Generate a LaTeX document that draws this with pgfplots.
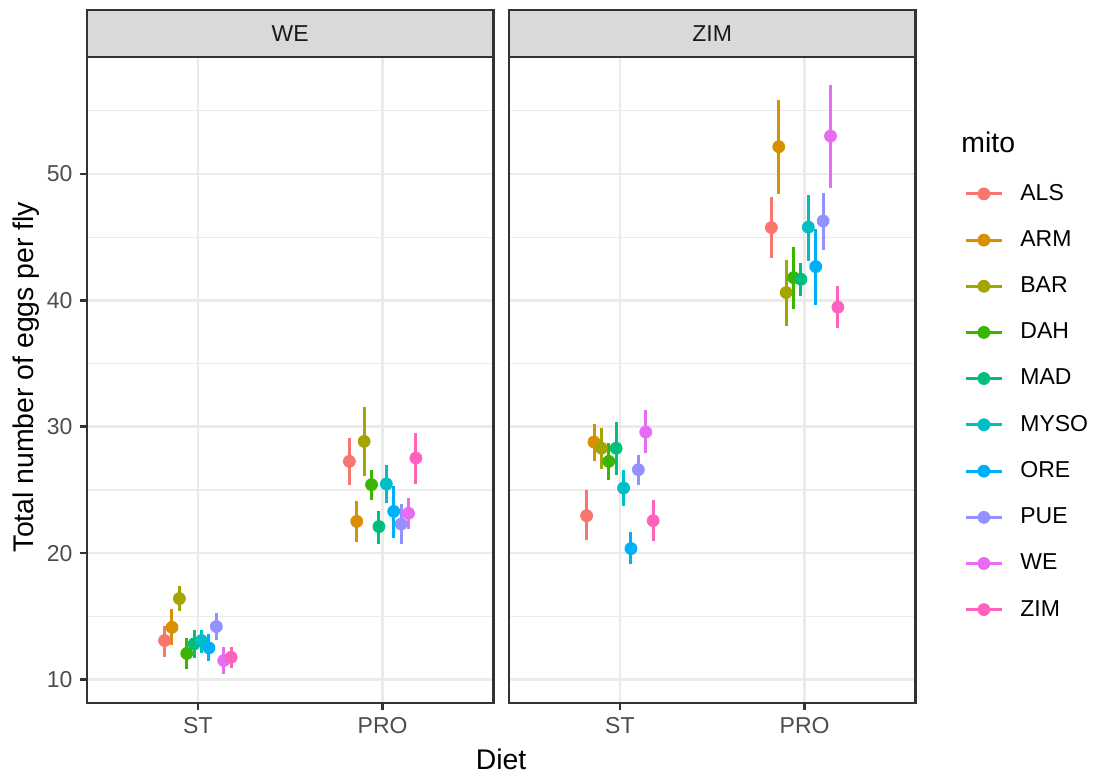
\documentclass[border=0pt]{standalone}
\usepackage{fontspec}
\setmainfont{Liberation Sans}
\usepackage{pgfplots}
\pgfplotsset{compat=1.18}
\usepackage{pgfplotstable}

\definecolor{cALS}{HTML}{F8766D}
\definecolor{cARM}{HTML}{D89000}
\definecolor{cBAR}{HTML}{A3A500}
\definecolor{cDAH}{HTML}{39B600}
\definecolor{cMAD}{HTML}{00BF7D}
\definecolor{cMYSO}{HTML}{00BFC4}
\definecolor{cORE}{HTML}{00B0F6}
\definecolor{cPUE}{HTML}{9590FF}
\definecolor{cWE}{HTML}{E76BF3}
\definecolor{cZIM}{HTML}{FF62BC}
\definecolor{grey92}{HTML}{EBEBEB}
\definecolor{grey85}{HTML}{D9D9D9}
\definecolor{grey30}{HTML}{4D4D4D}
\definecolor{grey20}{HTML}{333333}
\definecolor{grey10}{HTML}{1A1A1A}

% mean and interval per mito, two rows each (ST, PRO), x already dodged
% order: ALS ARM BAR DAH MAD MYSO ORE PUE WE ZIM
\pgfplotstableread{
x    y     lo    hi
0.82 13.08 11.80 14.27
1.82 27.26 25.40 29.10
0.86 14.13 12.69 15.59
1.86 22.51 20.85 24.10
0.90 16.40 15.40 17.43
1.90 28.84 26.13 31.56
0.94 12.06 10.85 13.30
1.94 25.42 24.17 26.60
0.98 12.82 11.70 13.95
1.98 22.10 20.75 23.30
1.02 13.08 12.10 13.90
2.02 25.47 24.00 26.94
1.06 12.50 11.45 13.56
2.06 23.30 21.20 25.34
1.10 14.19 13.10 15.27
2.10 22.30 20.70 23.90
1.14 11.50 10.40 12.58
2.14 23.15 21.90 24.33
1.18 11.76 10.90 12.58
2.18 27.52 25.50 29.50
}\dataWE

\pgfplotstableread{
x    y     lo    hi
0.82 22.96 21.00 24.96
1.82 45.76 43.34 48.16
0.86 28.79 27.26 30.24
1.86 52.16 48.40 55.85
0.90 28.30 26.68 29.90
1.90 40.62 37.98 43.20
0.94 27.26 25.80 28.70
1.94 41.80 39.30 44.25
0.98 28.30 26.20 30.40
1.98 41.67 40.36 42.99
1.02 25.15 23.75 26.55
2.02 45.79 43.15 48.34
1.06 20.36 19.10 21.64
2.06 42.67 39.64 45.63
1.10 26.60 25.40 27.80
2.10 46.28 44.00 48.47
1.14 29.58 27.90 31.30
2.14 53.00 48.87 57.04
1.18 22.57 20.93 24.17
2.18 39.46 37.80 41.17
}\dataZIM

\newcommand{\fsmall}{\fontsize{11.5}{13}\selectfont}
\newcommand{\fbig}{\fontsize{14.2}{16}\selectfont}

\pgfplotsset{
  panel/.style={
    scale only axis, width=203.25pt, height=323pt,
    xmin=0.4, xmax=2.6, ymin=8.14, ymax=59.26,
    xtick={1,2}, xticklabels={ST,PRO},
    ytick={10,20,30,40,50}, minor ytick={15,25,35,45,55},
    grid=both,
    major grid style={grey92, line width=1.36pt},
    minor grid style={grey92, line width=0.68pt},
    axis line style={grey20, line width=1.36pt},
    tick align=outside, tick pos=left,
    major tick length=3.7pt, minor tick length=0pt,
    every tick/.append style={grey20, line width=1.36pt},
    ticklabel style={font=\fsmall, text=grey30},
    /pgf/number format/assume math mode=true,
    clip=false,
  },
  m/.style n args={3}{
    only marks, mark=*, mark size=3pt, color=#1,
    mark options={draw=none, fill=#1},
    skip coords between index={0}{#2},
    skip coords between index={#3}{20},
    error bars/y dir=both, error bars/y explicit,
    error bars/error mark=none,
    error bars/error bar style={line width=1.5pt, color=#1},
    legend image code/.code={
      \draw[color=#1, line width=1.5pt] (0pt,0pt) -- (18pt,0pt);
      \fill[color=#1] (9pt,0pt) circle (3pt);
    },
  },
  table/tab/.style={x=x, y=y, y error plus expr=\thisrow{hi}-\thisrow{y},
    y error minus expr=\thisrow{y}-\thisrow{lo}},
}

\begin{document}
\begin{tikzpicture}
\path[use as bounding box] (0,0) rectangle (548.5pt,389.5pt);

\begin{axis}[panel, name=p1, at={(43.5pt,38pt)}, anchor=south west]
\addplot[m={cALS}{0}{2}] table[tab] {\dataWE};
\addplot[m={cARM}{2}{4}] table[tab] {\dataWE};
\addplot[m={cBAR}{4}{6}] table[tab] {\dataWE};
\addplot[m={cDAH}{6}{8}] table[tab] {\dataWE};
\addplot[m={cMAD}{8}{10}] table[tab] {\dataWE};
\addplot[m={cMYSO}{10}{12}] table[tab] {\dataWE};
\addplot[m={cORE}{12}{14}] table[tab] {\dataWE};
\addplot[m={cPUE}{14}{16}] table[tab] {\dataWE};
\addplot[m={cWE}{16}{18}] table[tab] {\dataWE};
\addplot[m={cZIM}{18}{20}] table[tab] {\dataWE};
\end{axis}

\begin{axis}[panel, name=p2, at={(254.5pt,38pt)}, anchor=south west,
  yticklabels={}, ytick style={draw=none},
  legend cell align=left,
  legend style={at={(1.1193,0.8096)}, anchor=north west, draw=none,
    fill=none, inner sep=0pt, row sep=9.65pt, font=\fsmall,
    /tikz/every odd column/.append style={column sep=6.5pt}}]
\addplot[m={cALS}{0}{2}] table[tab] {\dataZIM}; \addlegendentry{ALS}
\addplot[m={cARM}{2}{4}] table[tab] {\dataZIM}; \addlegendentry{ARM}
\addplot[m={cBAR}{4}{6}] table[tab] {\dataZIM}; \addlegendentry{BAR}
\addplot[m={cDAH}{6}{8}] table[tab] {\dataZIM}; \addlegendentry{DAH}
\addplot[m={cMAD}{8}{10}] table[tab] {\dataZIM}; \addlegendentry{MAD}
\addplot[m={cMYSO}{10}{12}] table[tab] {\dataZIM}; \addlegendentry{MYSO}
\addplot[m={cORE}{12}{14}] table[tab] {\dataZIM}; \addlegendentry{ORE}
\addplot[m={cPUE}{14}{16}] table[tab] {\dataZIM}; \addlegendentry{PUE}
\addplot[m={cWE}{16}{18}] table[tab] {\dataZIM}; \addlegendentry{WE}
\addplot[m={cZIM}{18}{20}] table[tab] {\dataZIM}; \addlegendentry{ZIM}
\end{axis}

% facet strips
\draw[fill=grey85, draw=grey20, line width=1.36pt] (43.5pt,361pt) rectangle (246.75pt,384.5pt);
\node[font=\fsmall, text=grey10] at (145.1pt,372.75pt) {WE};
\draw[fill=grey85, draw=grey20, line width=1.36pt] (254.5pt,361pt) rectangle (457.75pt,384.5pt);
\node[font=\fsmall, text=grey10] at (356.1pt,372.75pt) {ZIM};

% axis titles and legend title
\node[font=\fbig, anchor=base] at (250.5pt,4.5pt) {Diet};
\node[font=\fbig, anchor=base, rotate=90] at (16.5pt,201pt) {Total number of eggs per fly};
\node[font=\fbig, anchor=base west, inner sep=0pt] at (480.5pt,313.2pt) {mito};
\end{tikzpicture}
\end{document}
